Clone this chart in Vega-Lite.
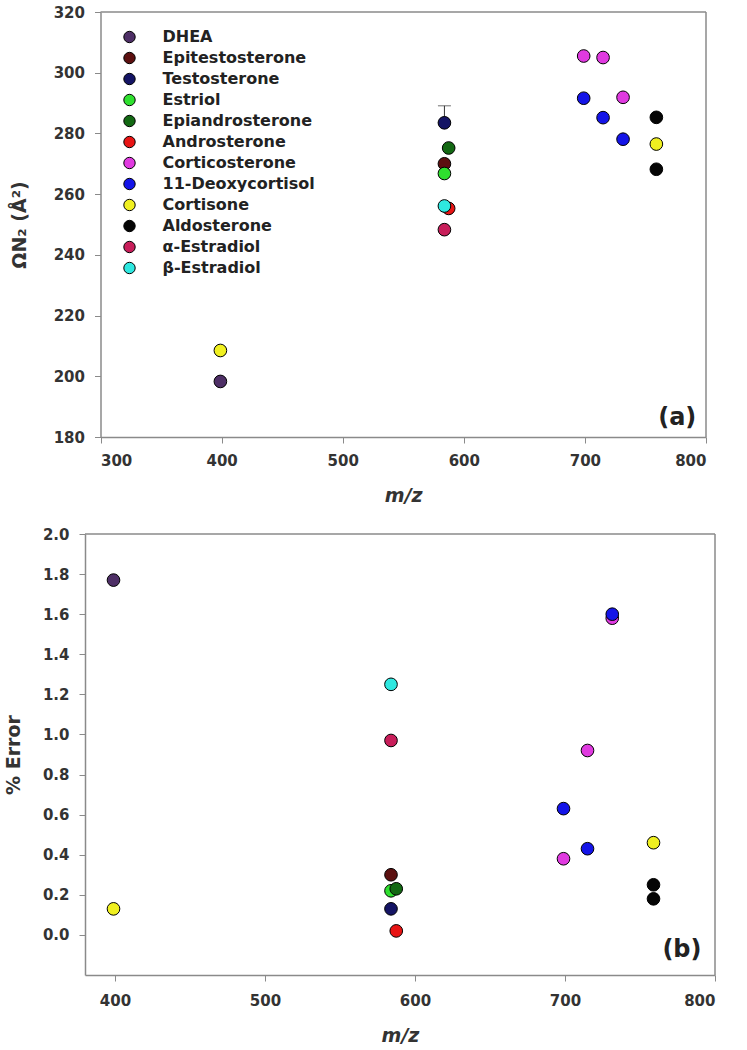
{
  "$schema": "https://vega.github.io/schema/vega-lite/v6.json",
  "background": "white",
  "padding": {"left": 4, "top": 5, "right": 5, "bottom": 5},
  "config": {
    "font": "DejaVu Sans",
    "view": {"stroke": null},
    "axis": {
      "labelFont": "DejaVu Sans",
      "labelFontWeight": "bold",
      "labelFontSize": 15,
      "labelColor": "#333333",
      "domainColor": "#8a8a8a",
      "domainWidth": 1.5,
      "tickColor": "#8a8a8a",
      "tickSize": 6,
      "tickWidth": 1,
      "grid": false,
      "titleFont": "DejaVu Sans",
      "titleFontWeight": "bold",
      "titleFontSize": 19,
      "titleColor": "#333333"
    }
  },
  "data": {
    "values": [
      {"compound": "DHEA", "mz": 399, "ccs": 198.3, "err": 1.77},
      {"compound": "Epitestosterone", "mz": 584, "ccs": 270.0, "err": 0.30},
      {"compound": "Testosterone", "mz": 584, "ccs": 283.5, "err": 0.13, "ccs_err_up": 5.6, "ccs_err_down": 0},
      {"compound": "Estriol", "mz": 584, "ccs": 266.8, "err": 0.22},
      {"compound": "Epiandrosterone", "mz": 587.5, "ccs": 275.2, "err": 0.23},
      {"compound": "Androsterone", "mz": 587.5, "ccs": 255.3, "err": 0.02},
      {"compound": "Corticosterone", "mz": 699, "ccs": 305.5, "err": 0.38},
      {"compound": "Corticosterone", "mz": 715, "ccs": 305.0, "err": 0.92},
      {"compound": "Corticosterone", "mz": 731.5, "ccs": 291.9, "err": 1.58},
      {"compound": "11-Deoxycortisol", "mz": 699, "ccs": 291.6, "err": 0.63},
      {"compound": "11-Deoxycortisol", "mz": 715, "ccs": 285.2, "err": 0.43},
      {"compound": "11-Deoxycortisol", "mz": 731.5, "ccs": 278.1, "err": 1.60},
      {"compound": "Cortisone", "mz": 399, "ccs": 208.5, "err": 0.13},
      {"compound": "Cortisone", "mz": 759, "ccs": 276.5, "err": 0.46},
      {"compound": "Aldosterone", "mz": 759, "ccs": 285.3, "err": 0.25},
      {"compound": "Aldosterone", "mz": 759, "ccs": 268.2, "err": 0.18},
      {"compound": "α-Estradiol", "mz": 584, "ccs": 248.3, "err": 0.97},
      {"compound": "β-Estradiol", "mz": 584, "ccs": 256.1, "err": 1.25}
    ]
  },
  "spacing": 22,
  "resolve": {"legend": {"color": "independent"}},
  "vconcat": [
    {
      "width": 621,
      "height": 425,
      "encoding": {
        "x": {
          "field": "mz", "type": "quantitative",
          "scale": {"domain": [300, 800], "range": [15.5, 621], "nice": false, "zero": false},
          "axis": {"values": [300, 400, 500, 600, 700, 800], "title": "m/z", "titleFontStyle": "italic", "labelPadding": 10, "titlePadding": 18}
        },
        "y": {
          "field": "ccs", "type": "quantitative",
          "scale": {"domain": [180, 320], "nice": false, "zero": false},
          "axis": {"values": [180, 200, 220, 240, 260, 280, 300, 320], "title": "ΩN₂ (Å²)", "offset": -15.5, "labelPadding": 10, "titlePadding": 24}
        }
      },
      "layer": [
        {
          "transform": [{"filter": "datum.compound === 'DHEA'"}],
          "mark": {"type": "rule", "color": "#8a8a8a", "strokeWidth": 1.5},
          "encoding": {"x": {"datum": 300}, "x2": {"datum": 800}, "y": {"datum": 320}}
        },
        {
          "transform": [{"filter": "datum.compound === 'DHEA'"}],
          "mark": {"type": "rule", "color": "#8a8a8a", "strokeWidth": 1.5},
          "encoding": {"x": {"datum": 800}, "y": {"datum": 180}, "y2": {"datum": 320}}
        },
        {
          "transform": [{"filter": "datum.ccs_err_up > 0"}],
          "mark": {"type": "errorbar", "color": "#333333", "ticks": {"size": 13}},
          "encoding": {
            "y": {"field": "ccs", "type": "quantitative"},
            "yError": {"field": "ccs_err_up"},
            "yError2": {"field": "ccs_err_down"}
          }
        },
        {
          "mark": {"type": "point", "shape": "circle", "filled": true, "size": 160, "stroke": "black", "strokeWidth": 1, "opacity": 1},
          "encoding": {
            "color": {
              "field": "compound", "type": "nominal",
              "scale": {
                "domain": ["DHEA", "Epitestosterone", "Testosterone", "Estriol", "Epiandrosterone", "Androsterone", "Corticosterone", "11-Deoxycortisol", "Cortisone", "Aldosterone", "α-Estradiol", "β-Estradiol"],
                "range": ["#4e2f66", "#5c1010", "#141464", "#2fe02f", "#136813", "#e81414", "#e03ae0", "#1414e8", "#f0f020", "#050505", "#c81e5a", "#2ee8e0"]
              },
              "legend": {
                "title": null, "orient": "none", "legendX": 36.5, "legendY": 17,
                "padding": 0, "symbolType": "circle", "symbolSize": 130,
                "symbolStrokeColor": "black", "symbolStrokeWidth": 1, "symbolOpacity": 1,
                "labelFont": "DejaVu Sans", "labelFontWeight": "bold", "labelFontSize": 16,
                "labelColor": "#222222", "labelOffset": 25, "rowPadding": 5, "labelLimit": 300
              }
            }
          }
        },
        {
          "transform": [{"filter": "datum.compound === 'DHEA'"}],
          "mark": {"type": "text", "text": "(a)", "align": "right", "baseline": "alphabetic", "fontSize": 24, "fontWeight": "bold", "color": "#222222"},
          "encoding": {"x": {"datum": 792}, "y": {"datum": 184}}
        }
      ]
    },
    {
      "width": 630,
      "height": 441,
      "encoding": {
        "x": {
          "field": "mz", "type": "quantitative",
          "scale": {"domain": [380, 800], "nice": false, "zero": false},
          "axis": {"values": [400, 500, 600, 700, 800], "title": "m/z", "titleFontStyle": "italic", "labelPadding": 12, "titlePadding": 18}
        },
        "y": {
          "field": "err", "type": "quantitative",
          "scale": {"domain": [-0.2, 2.0], "nice": false, "zero": false},
          "axis": {"values": [0, 0.2, 0.4, 0.6, 0.8, 1.0, 1.2, 1.4, 1.6, 1.8, 2.0], "format": ".1f", "title": "% Error", "labelPadding": 10, "titlePadding": 19}
        }
      },
      "layer": [
        {
          "transform": [{"filter": "datum.compound === 'DHEA'"}],
          "mark": {"type": "rule", "color": "#8a8a8a", "strokeWidth": 1.5},
          "encoding": {"x": {"datum": 380}, "x2": {"datum": 800}, "y": {"datum": 2.0}}
        },
        {
          "transform": [{"filter": "datum.compound === 'DHEA'"}],
          "mark": {"type": "rule", "color": "#8a8a8a", "strokeWidth": 1.5},
          "encoding": {"x": {"datum": 800}, "y": {"datum": -0.2}, "y2": {"datum": 2.0}}
        },
        {
          "mark": {"type": "point", "shape": "circle", "filled": true, "size": 160, "stroke": "black", "strokeWidth": 1, "opacity": 1},
          "encoding": {
            "color": {"field": "compound", "type": "nominal", "legend": null}
          }
        },
        {
          "transform": [{"filter": "datum.compound === 'DHEA'"}],
          "mark": {"type": "text", "text": "(b)", "align": "right", "baseline": "alphabetic", "fontSize": 24, "fontWeight": "bold", "color": "#222222"},
          "encoding": {"x": {"datum": 791}, "y": {"datum": -0.11}}
        }
      ]
    }
  ]
}
